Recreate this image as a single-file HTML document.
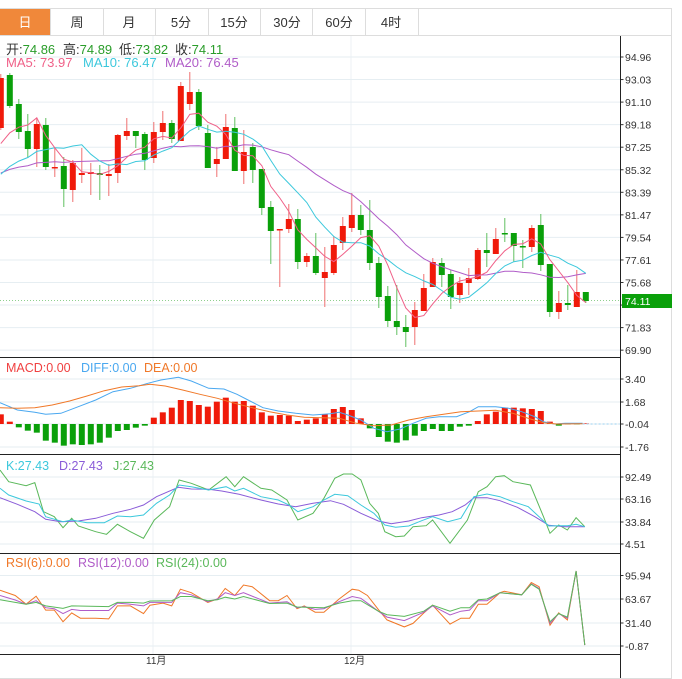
<!DOCTYPE html>
<html><head><meta charset="utf-8"><style>
body{margin:0;background:#fff;width:682px;height:679px;overflow:hidden;font-family:"Liberation Sans","Noto Sans CJK SC",sans-serif;}
svg{position:absolute;left:0;top:0}
</style></head><body>
<svg id="s" width="682" height="679" xmlns="http://www.w3.org/2000/svg" font-family="Liberation Sans, Noto Sans CJK SC, sans-serif">
<rect x="0" y="8" width="672" height="671" fill="#fff"/>
<line x1="0" y1="8.5" x2="672" y2="8.5" stroke="#ddd"/>
<line x1="0" y1="35.5" x2="672" y2="35.5" stroke="#ddd"/>
<line x1="671.5" y1="8" x2="671.5" y2="679" stroke="#ddd"/>
<rect x="0" y="9" width="50" height="26" fill="#f0883a"/>
<g font-size="13" fill="#333" text-anchor="middle">
<text x="25" y="27" fill="#fff">日</text>
<text x="77" y="27">周</text><text x="129" y="27">月</text><text x="181" y="27">5分</text>
<text x="234" y="27">15分</text><text x="287" y="27">30分</text><text x="339" y="27">60分</text><text x="391" y="27">4时</text>
</g>
<g stroke="#ddd"><line x1="50.5" y1="9" x2="50.5" y2="35"/><line x1="103.5" y1="9" x2="103.5" y2="35"/><line x1="155.5" y1="9" x2="155.5" y2="35"/><line x1="208.5" y1="9" x2="208.5" y2="35"/><line x1="260.5" y1="9" x2="260.5" y2="35"/><line x1="312.5" y1="9" x2="312.5" y2="35"/><line x1="365.5" y1="9" x2="365.5" y2="35"/><line x1="418.5" y1="9" x2="418.5" y2="35"/></g>
<g id="grid"></g>
<g id="plot"></g>
<g font-size="13">
<text x="6" y="54" fill="#333">开:<tspan fill="#2a9d2a">74.86</tspan></text>
<text x="63" y="54" fill="#333">高:<tspan fill="#2a9d2a">74.89</tspan></text>
<text x="119" y="54" fill="#333">低:<tspan fill="#2a9d2a">73.82</tspan></text>
<text x="175" y="54" fill="#333">收:<tspan fill="#2a9d2a">74.11</tspan></text>
<text x="6" y="67" fill="#f06088">MA5: 73.97</text><text x="83" y="67" fill="#3cc8dc">MA10: 76.47</text><text x="165" y="67" fill="#b05cc8">MA20: 76.45</text>
</g>
<g font-size="12.5">
<text x="6" y="372" fill="#f04040">MACD:0.00</text><text x="81" y="372" fill="#4aa8f0">DIFF:0.00</text><text x="144" y="372" fill="#f07828">DEA:0.00</text>
<text x="6" y="470" fill="#3cc8dc">K:27.43</text><text x="59" y="470" fill="#8a5cd8">D:27.43</text><text x="113" y="470" fill="#5ab85a">J:27.43</text>
<text x="6" y="567" fill="#f07828">RSI(6):0.00</text><text x="78" y="567" fill="#b05cc8">RSI(12):0.00</text><text x="156" y="567" fill="#5ab85a">RSI(24):0.00</text>
</g>
<g id="axis" font-size="10.5" fill="#333"></g>
</svg>
<script>
var NS="http://www.w3.org/2000/svg";
function el(p,t,a){var e=document.createElementNS(NS,t);for(var k in a)e.setAttribute(k,a[k]);p.appendChild(e);return e;}
var G=document.getElementById('grid'),P=document.getElementById('plot'),A=document.getElementById('axis');
var AX=620.5;
[153,351].forEach(function(x){el(G,'line',{x1:x,y1:36,x2:x,y2:654,stroke:'#eef2f5'});});
function hgrid(y,lab){el(G,'line',{x1:0,y1:y,x2:AX,y2:y,stroke:'#e6eef2'});el(A,'line',{x1:AX,y1:y,x2:AX+3,y2:y,stroke:'#333'});if(lab!==null){var t=el(A,'text',{x:625,y:y+4});t.textContent=lab;}}
var pl=["94.96","93.03","91.10","89.18","87.25","85.32","83.39","81.47","79.54","77.61","75.68",null,"71.83","69.90"];
for(var i=0;i<pl.length;i++){hgrid(57+i*22.55,pl[i]);}
[[379,"3.40"],[402,"1.68"],[424,"-0.04"],[447,"-1.76"]].forEach(function(a){hgrid(a[0],a[1]);});
[[477,"92.49"],[499,"63.16"],[522,"33.84"],[544,"4.51"]].forEach(function(a){hgrid(a[0],a[1]);});
[[575.5,"95.94"],[599,"63.67"],[623,"31.40"],[646,"-0.87"]].forEach(function(a){hgrid(a[0],a[1]);});
[357.5,454.5,553.5,654.5].forEach(function(y){el(A,'line',{x1:0,y1:y,x2:AX,y2:y,stroke:'#222'});});
el(A,'line',{x1:AX,y1:36,x2:AX,y2:679,stroke:'#222'});
el(A,'line',{x1:0,y1:678.5,x2:672,y2:678.5,stroke:'#ddd'});
var t1=el(A,'text',{x:146,y:664,'font-size':'10'});t1.textContent="11月";
var t2=el(A,'text',{x:344,y:664,'font-size':'10'});t2.textContent="12月";
var C=[['r',78,128,74,130],['g',75,106,73,108],['g',104,132,99,139],['g',131,149,114,158],['r',124,149,118,167],['g',125,167,118,170],['r',167,168,148,177],['g',166,189,157,207],['r',163,190,160,202],['r',173,175,148,183],['r',172,174,163,195],['g',173,175,165,200],['r',174,176,164,196],['r',135,173,134,183],['r',131,136,118,140],['g',131,136,131,148],['g',134,160,132,170],['r',132,158,122,163],['r',123,132,111,140],['g',123,139,120,143],['r',86,141,82,141],['r',92,104,72,110],['g',92,126,89,130],['g',133,168,125,168],['r',159,164,147,177],['r',127,159,114,159],['g',128,171,117,171],['r',152,171,130,184],['g',147,170,143,183],['g',169,208,169,215],['g',207,231,201,264],['r',229,230,229,287],['r',219,229,204,233],['g',219,262,209,269],['r',256,262,253,267],['g',256,273,233,275],['r',272,278,247,307],['r',245,273,236,275],
['r',226,243,217,250],['r',215,228,193,232],['g',215,230,205,235],['g',230,263,200,270],['g',263,297,257,308],['g',296,321,286,327],['g',321,327,285,335],['g',327,332,315,347],['r',310,327,302,345],['r',288,311,274,311],['r',262,287,258,287],['g',263,275,258,287],['g',274,297,270,309],['r',283,295,277,303],['r',278,283,268,295],['r',250,279,248,280],['g',250,253,233,267],['r',239,254,228,254],['g',233,234,218,242],['g',233,246,233,262],['g',246,247,240,268],['r',228,247,225,252],['g',225,265,214,271],['g',264,312,264,317],['r',303,312,291,319],['g',303,305,285,310],['r',292,307,270,307],['g',292,301,292,303]];
function cx(i){return 9*i+0.8;}
el(P,'line',{x1:0,y1:300.5,x2:AX,y2:300.5,stroke:'#8fd08f','stroke-dasharray':'1,2'});
var closes=[];
C.forEach(function(c,i){var col=c[0]=='r'?'#f01a0a':'#0aa00a',wc=c[0]=='r'?'#f07070':'#60c060';var x=cx(i);
el(P,'line',{x1:x,y1:c[3],x2:x,y2:c[4],stroke:wc,'stroke-width':1});
el(P,'rect',{x:x-3,y:c[1],width:6,height:Math.max(1.5,c[2]-c[1]),fill:col});
closes.push(c[0]=='r'?c[1]:c[2]);});
function ma(n,pad){var pts=[];var arr=[];for(var k=0;k<20;k++)arr.push(pad);arr=arr.concat(closes);for(var i=0;i<closes.length;i++){var s=0;for(var j=0;j<n;j++)s+=arr[20+i-j];pts.push(cx(i).toFixed(1)+','+(s/n).toFixed(1));}return pts.join(' ');}
el(P,'polyline',{points:ma(20,178),fill:'none',stroke:'#b05cc8','stroke-width':1});
el(P,'polyline',{points:ma(10,185),fill:'none',stroke:'#3cc8dc','stroke-width':1});
el(P,'polyline',{points:ma(5,160),fill:'none',stroke:'#f06088','stroke-width':1});
el(A,'rect',{x:622,y:294,width:50,height:14,fill:'#0aa00a'});
var pt=el(A,'text',{x:625,y:305,fill:'#fff'});pt.textContent="74.11";
var M=[29,7,-10,-20,-26,-50,-56,-65,-61,-63,-61,-56,-41,-21,-18,-11,-5,19,35,49,72,69,57,52,67,79,67,69,55,35,25,27,25,9,13,17,29,45,51,42,17,-13,-39,-53,-56,-49,-35,-21,-15,-21,-21,-8,-5,9,29,37,49,49,47,45,39,7,-5,-1,-1,2];
M.forEach(function(v,i){var h=v/3;var x=cx(i);if(v>=0)el(P,'rect',{x:x-3,y:424-h,width:6,height:Math.max(h,0.5),fill:'#f01a0a'});else el(P,'rect',{x:x-3,y:424,width:6,height:-h,fill:'#0aa00a'});});
function line(pts,sx,oy,sy,col,extra){var s=pts.map(function(p){return (p[0]/sx).toFixed(1)+','+(oy+p[1]/sy).toFixed(1);}).join(' ');var a={points:s,fill:'none',stroke:col,'stroke-width':1};for(var k in extra)a[k]=extra[k];el(P,'polyline',a);}
var S=2.3;
var DIFF=[[0,143],[40,165],[80,172],[105,178],[140,175],[180,155],[220,135],[260,110],[300,100],[340,85],[370,75],[410,67],[440,78],[480,100],[515,102],[545,118],[575,138],[605,158],[640,168],[680,175],[720,180],[760,176],[780,172],[800,180],[830,195],[860,220],[890,230],[920,222],[950,205],[980,190],[1010,185],[1050,185],[1080,170],[1100,155],[1140,155],[1170,160],[1200,170],[1230,185],[1250,200],[1275,207],[1300,205],[1340,205]];
var DEA=[[0,158],[40,160],[80,158],[120,150],[160,138],[200,123],[240,107],[280,96],[320,92],[345,88],[380,93],[420,105],[460,118],[500,130],[540,145],[580,158],[620,170],[660,180],[700,187],[740,188],[780,190],[820,205],[860,212],[900,210],[940,195],[980,185],[1020,178],[1060,170],[1100,168],[1140,166],[1180,175],[1220,192],[1250,203],[1280,207],[1340,206]];
line(DIFF,S,355,3,'#4aa8f0');line(DEA,S,355,3,'#f07828');
line([[1340,207],[1425,207]],S,355,3,'#9ad0f0',{'stroke-dasharray':'2,2'});
var K=[[0,100],[20,120],[60,138],[90,147],[105,185],[145,200],[165,195],[200,203],[240,203],[270,183],[300,185],[330,180],[360,145],[390,120],[412,90],[440,95],[480,105],[520,95],[540,108],[560,100],[600,125],[640,135],[665,150],[685,170],[720,155],[745,135],[770,118],[800,122],[830,150],[860,175],[885,210],[910,217],[940,213],[970,197],[995,185],[1030,200],[1060,190],[1090,125],[1120,117],[1150,125],[1180,140],[1215,155],[1240,185],[1262,213],[1285,212],[1305,212],[1325,208],[1345,215]];
var D=[[0,128],[40,148],[80,170],[105,193],[140,200],[180,198],[220,190],[260,175],[300,163],[330,150],[360,125],[410,97],[440,102],[480,103],[510,108],[550,118],[600,135],[640,147],[680,155],[720,145],[760,137],[790,148],[830,175],[870,198],[900,206],[940,198],[970,188],[1010,180],[1040,170],[1070,150],[1090,128],[1120,128],[1150,137],[1190,157],[1230,185],[1262,211],[1300,215],[1345,215]];
var J=[[0,45],[20,80],[60,92],[80,83],[100,170],[125,185],[145,218],[165,190],[180,213],[220,230],[245,238],[270,208],[300,230],[330,250],[355,195],[390,155],[412,75],[440,85],[480,105],[520,65],[540,95],[560,65],[600,100],[625,105],[660,135],[685,195],[720,175],[745,130],[770,70],[790,57],[810,57],[830,75],[850,145],[870,175],[885,230],[910,245],[930,243],[950,215],[980,212],[995,195],[1035,265],[1075,195],[1100,110],[1120,95],[1140,65],[1160,62],[1180,80],[1220,90],[1250,185],[1265,235],[1285,210],[1305,225],[1325,188],[1345,215]];
line(J,S,455,3,'#5ab85a');line(D,S,455,3,'#8a5cd8');line(K,S,455,3,'#3cc8dc');
var R6=[[0,115],[35,130],[60,155],[83,132],[105,172],[125,172],[145,205],[165,180],[185,195],[220,195],[250,197],[270,160],[300,160],[330,182],[345,158],[375,152],[395,160],[415,112],[440,122],[478,150],[500,140],[518,110],[540,130],[560,100],[580,105],[620,145],[640,145],[660,130],[683,168],[700,160],[725,178],[745,178],[780,140],[810,112],[825,115],[845,130],[870,170],[890,200],[930,220],[950,210],[975,180],[995,158],[1035,212],[1060,195],[1080,195],[1100,155],[1120,155],[1150,122],[1160,118],[1200,128],[1222,93],[1240,105],[1265,215],[1285,180],[1305,200],[1325,60],[1345,272]];
var R12=[[0,130],[35,143],[60,155],[83,145],[105,165],[125,168],[145,182],[165,170],[185,173],[250,173],[270,152],[300,155],[330,160],[345,150],[395,150],[415,122],[440,128],[478,148],[500,140],[518,122],[540,130],[560,122],[620,152],[660,148],[683,165],[700,162],[725,170],[745,168],[780,148],[810,133],[830,138],[870,175],[890,192],[930,202],[975,178],[995,160],[1035,186],[1060,175],[1080,172],[1100,145],[1120,145],[1150,122],[1200,128],[1222,97],[1240,110],[1265,210],[1285,182],[1305,195],[1325,60],[1345,272]];
var R24=[[0,142],[35,150],[60,155],[83,150],[105,160],[145,167],[165,160],[250,162],[270,150],[300,150],[330,152],[345,146],[395,145],[415,133],[440,133],[478,145],[500,142],[518,135],[540,140],[560,133],[620,153],[660,152],[683,163],[745,165],[780,152],[810,145],[830,145],[870,175],[890,185],[930,190],[975,175],[995,158],[1035,175],[1060,165],[1080,165],[1100,142],[1120,140],[1150,122],[1200,128],[1222,98],[1240,112],[1265,205],[1285,182],[1305,192],[1325,60],[1345,272]];
line(R6,S,550,2.86,'#f07828');line(R12,S,550,2.86,'#b05cc8');line(R24,S,550,2.86,'#5ab85a');
</script>
</body></html>
